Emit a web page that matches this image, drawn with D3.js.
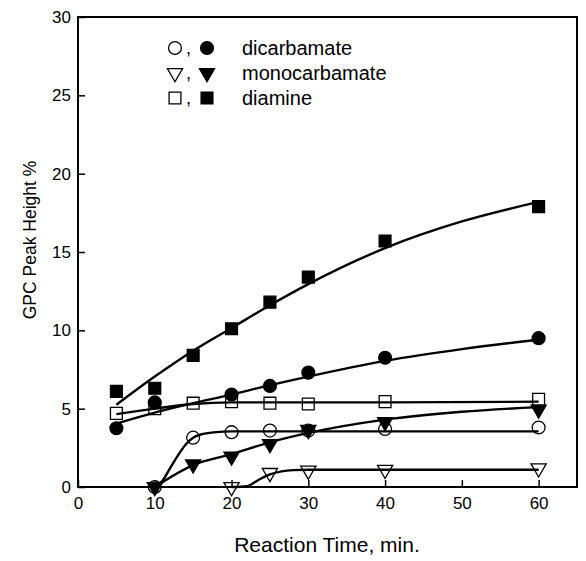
<!DOCTYPE html>
<html>
<head>
<meta charset="utf-8">
<script src="https://cdn.jsdelivr.net/npm/d3@7"></script>
<style>
  html, body { margin: 0; padding: 0; background: #fff; overflow: hidden; }
  svg { display: block; font-family: "Liberation Sans", Arial, sans-serif; }
</style>
</head>
<body>
<div id="chart"></div>
<script>
// ---------- data ----------
const seriesNames = ["dicarbamate", "monocarbamate", "diamine"];

// measured points (min, %)
const dicarbFilledT = [5, 10, 20, 25, 30, 40, 60];
const dicarbFilledV = [3.75, 5.4, 5.9, 6.45, 7.3, 8.25, 9.5];
const dicarbOpenT = [10, 15, 20, 25, 30, 40, 60];
const dicarbOpenV = [0, 3.15, 3.5, 3.6, 3.6, 3.7, 3.8];

const monoFilledT = [10, 15, 20, 25, 30, 40, 60];
const monoFilledV = [0, 1.45, 1.95, 2.75, 3.65, 4.15, 4.95];
const monoOpenT = [20, 25, 30, 40, 60];
const monoOpenV = [0, 0.9, 1.05, 1.1, 1.2];

const diamFilledT = [5, 10, 15, 20, 25, 30, 40, 60];
const diamFilledV = [6.1, 6.3, 8.4, 10.1, 11.8, 13.4, 15.7, 17.9];
const diamOpenT = [5, 10, 15, 20, 25, 30, 40, 60];
const diamOpenV = [4.7, 5.0, 5.35, 5.45, 5.35, 5.3, 5.45, 5.6];

// fitted curves, points
const fitDiamFilled = [[5, 5.25], [10, 7.05], [15, 8.7], [20, 10.15], [25, 11.6], [30, 12.95], [40, 15.25], [50, 16.95], [60, 18.2]];
const fitDicarbFilled = [[5, 4.05], [10, 4.75], [15, 5.35], [20, 5.9], [25, 6.5], [30, 7.05], [40, 8.05], [50, 8.8], [60, 9.4]];
const fitDiamOpen = [[5, 4.65], [10, 5.0], [15, 5.3], [20, 5.4], [30, 5.4], [40, 5.4], [60, 5.45]];
const fitDicarbOpen = [[10, 0], [11, 0.4], [12, 1.2], [13, 2.0], [14, 2.7], [15, 3.15], [16, 3.35], [18, 3.5], [20, 3.55], [60, 3.55]];
const fitMonoFilled = [[10, 0], [15, 1.4], [20, 2.1], [25, 2.85], [30, 3.45], [40, 4.3], [50, 4.8], [60, 5.1]];
const fitMonoOpen = [[20, 0], [22, 0.05], [23.5, 0.45], [25, 0.8], [26.5, 1.0], [28, 1.08], [30, 1.1], [40, 1.1], [60, 1.1]];

const xTicks = [0, 10, 20, 30, 40, 50, 60];
const yTicks = [0, 5, 10, 15, 20, 25, 30];

// ---------- layout ----------
const W = 586, H = 561;
const x = d3.scaleLinear().domain([0, 65]).range([78, 577]);
const y = d3.scaleLinear().domain([0, 30]).range([487, 17]);

const svg = d3.select("#chart").append("svg")
  .attr("width", W).attr("height", H)
  .attr("viewBox", `0 0 ${W} ${H}`);

// axes, ticks pointing inward
const yAxis = svg.append("g")
  .attr("transform", `translate(${x(0)},0)`)
  .call(d3.axisLeft(y).tickValues(yTicks).tickSize(-7).tickSizeOuter(0).tickPadding(7));
const xAxis = svg.append("g")
  .attr("transform", `translate(0,${y(0)})`)
  .call(d3.axisBottom(x).tickValues(xTicks).tickSize(-7).tickSizeOuter(0).tickPadding(10));

[yAxis, xAxis].forEach(a => {
  a.select(".domain").remove();
  a.selectAll(".tick line").attr("stroke-width", 1.5);
  a.selectAll("text").attr("font-size", 17).attr("fill", "#000")
    .attr("font-family", "'Liberation Sans', Arial, sans-serif");
});

// axis titles
svg.append("text")
  .attr("transform", `translate(36,240) rotate(-90)`)
  .attr("text-anchor", "middle")
  .attr("font-size", 17.5)
  .text("GPC Peak Height %");
svg.append("text")
  .attr("x", 327).attr("y", 552)
  .attr("text-anchor", "middle")
  .attr("font-size", 21)
  .text("Reaction Time, min.");

// ---------- fit lines ----------
const line = d3.line()
  .x(d => x(d[0])).y(d => y(d[1]))
  .curve(d3.curveMonotoneX);

const fits = [fitDiamFilled, fitDicarbFilled, fitDiamOpen, fitDicarbOpen, fitMonoFilled, fitMonoOpen];
svg.append("g")
  .selectAll("path")
  .data(fits)
  .join("path")
  .attr("d", line)
  .attr("fill", "none")
  .attr("stroke", "#000")
  .attr("stroke-width", 2.4);

// ---------- markers ----------
const shapes = {
  circle: d3.symbol().type(d3.symbolCircle).size(130)(),
  square: d3.symbol().type(d3.symbolSquare).size(140)(),
  triangle: d3.symbol().type(d3.symbolTriangle).size(100)()
};

function marker(g, shape, filled) {
  g.append("path")
    .attr("d", shapes[shape])
    .attr("transform", shape === "triangle" ? "rotate(180)" : null)
    .attr("fill", filled ? "#000" : "none")
    .attr("stroke", "#000")
    .attr("stroke-width", 1.3);
}

const markerSets = [
  { t: diamOpenT, v: diamOpenV, shape: "square", filled: false },
  { t: dicarbOpenT, v: dicarbOpenV, shape: "circle", filled: false },
  { t: monoOpenT, v: monoOpenV, shape: "triangle", filled: false },
  { t: diamFilledT, v: diamFilledV, shape: "square", filled: true },
  { t: dicarbFilledT, v: dicarbFilledV, shape: "circle", filled: true },
  { t: monoFilledT, v: monoFilledV, shape: "triangle", filled: true }
];

markerSets.forEach(s => {
  s.t.forEach((t, i) => {
    const g = svg.append("g").attr("transform", `translate(${x(t)},${y(s.v[i])})`);
    marker(g, s.shape, s.filled);
  });
});

// ---------- legend ----------
const legendShapes = ["circle", "triangle", "square"];
const legend = svg.append("g");
seriesNames.forEach((name, i) => {
  const ly = 48 + i * 25;
  marker(legend.append("g").attr("transform", `translate(175,${ly})`), legendShapes[i], false);
  legend.append("text").attr("x", 186).attr("y", ly + 6).attr("font-size", 18).text(",");
  marker(legend.append("g").attr("transform", `translate(207,${ly})`), legendShapes[i], true);
  legend.append("text").attr("x", 242).attr("y", ly + 7).attr("font-size", 20).text(name);
});

// ---------- frame round the plot (drawn last, four sides) ----------
const [fx0, fx1] = x.range();
const [fy0, fy1] = y.range();
const frameSides = [
  [fx0, fy0, fx1, fy0],
  [fx1, fy0, fx1, fy1],
  [fx1, fy1, fx0, fy1],
  [fx0, fy1, fx0, fy0]
];
svg.append("g")
  .selectAll("line")
  .data(frameSides)
  .join("line")
  .attr("x1", d => d[0]).attr("y1", d => d[1])
  .attr("x2", d => d[2]).attr("y2", d => d[3])
  .attr("stroke", "#000")
  .attr("stroke-width", 2)
  .attr("stroke-linecap", "square");
</script>
</body>
</html>
